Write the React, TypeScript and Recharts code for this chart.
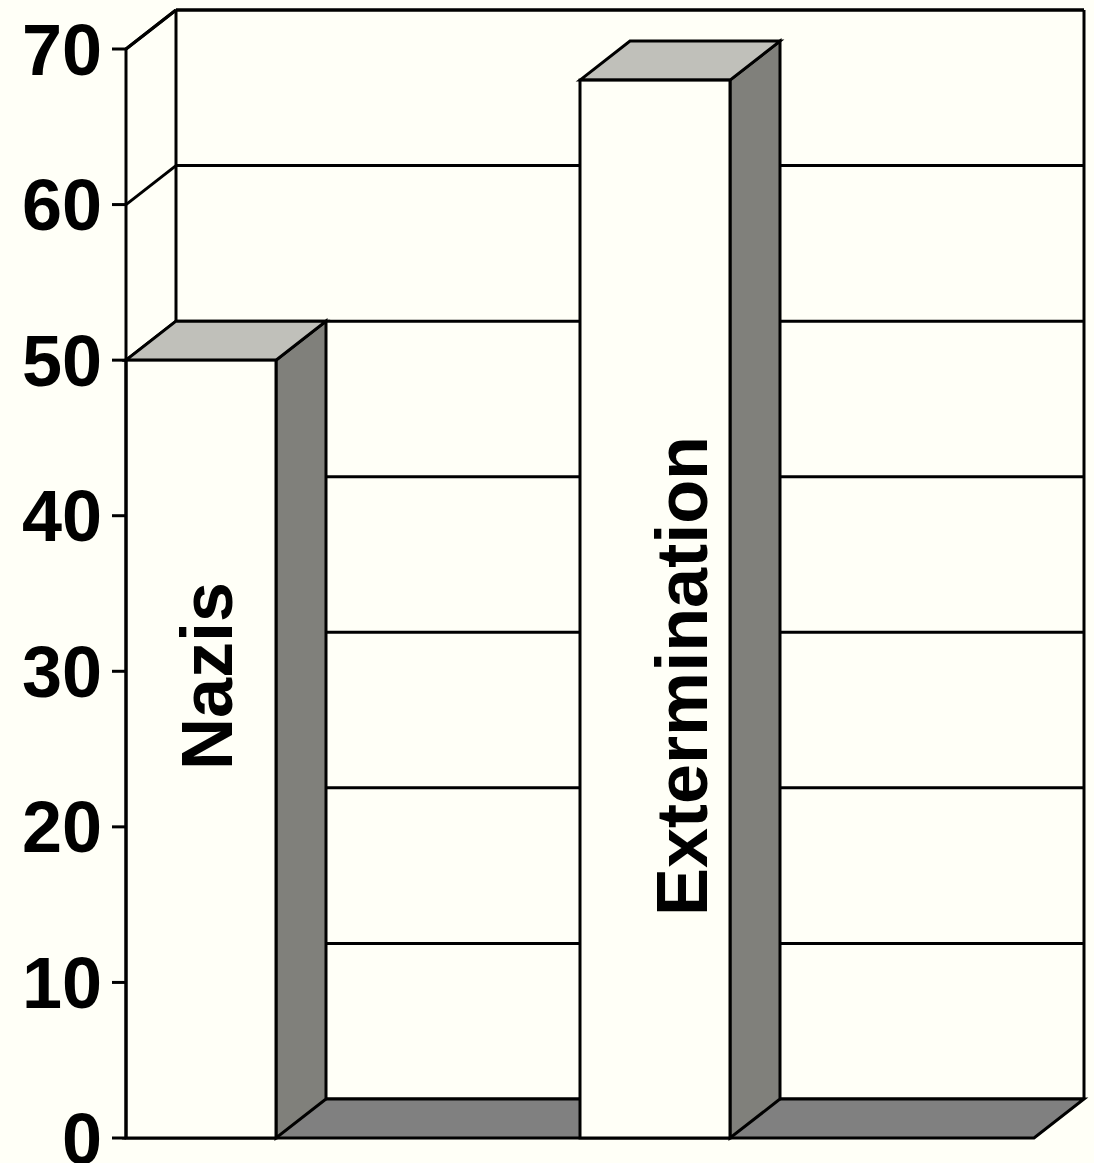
// Old-style 3D column chart: two columns standing in a box with a back wall and floor.

import { Bar, BarChart, CartesianGrid, ReferenceArea, XAxis, YAxis } from "recharts";

const CATEGORIES = ["Nazis", "Extermination"];
const VALUES = [50, 68];
const Y_TICKS = [0, 10, 20, 30, 40, 50, 60, 70];
// value level at which the rotated in-bar labels are centred
const LABEL_LEVEL = 29.7;

const W = 1094;
const H = 1163;
const MARGIN = { top: 49, right: 60, bottom: 25, left: 0 };
const AXIS_W = 126;
const PLOT_W = W - MARGIN.left - MARGIN.right - AXIS_W;
const BAR_W = 150;
const DX = 50; // depth offset
const DY = 39;
const LABEL_DX = [6, 27];

const BG = "#FFFFF7";
const TOP = "#C0C0BA";
const SIDE = "#80807B";
const FLOOR = "#808080";
const INK = "#000";
const SW = 3;
const FONT = "Arial, 'Liberation Sans', Helvetica, sans-serif";

const rows = CATEGORIES.map((name, i) => ({ name, value: VALUES[i] }));

function Box(props: any) {
  const { x, y, width, height } = props;
  const bx = x + DX;
  const by = y - DY;
  return (
    <g stroke={INK} strokeWidth={SW}>
      <line x1={bx} y1={by} x2={bx + width} y2={by} />
      <line x1={bx} y1={by} x2={bx} y2={by + height} />
      <line x1={bx + width} y1={by} x2={bx + width} y2={by + height} />
      <line x1={x} y1={y} x2={bx} y2={by} />
      <polygon
        points={`${x},${y + height} ${bx},${by + height} ${bx + width},${by + height} ${x + width},${y + height}`}
        fill={FLOOR}
      />
    </g>
  );
}

function GridLine(p: any) {
  const { x1, x2, y1 } = p;
  return (
    <g key={p.key} stroke={INK} strokeWidth={SW}>
      <line x1={x1} y1={y1} x2={x1 + DX} y2={y1 - DY} />
      <line x1={x1 + DX} y1={y1 - DY} x2={x2 + DX} y2={y1 - DY} />
    </g>
  );
}

function Bar3D(props: any) {
  const { x, y, width, height, index, payload } = props;
  const band = PLOT_W / CATEGORIES.length;
  const fx = x - (band - width) / 2;
  const bottom = y + height;
  const ly = bottom - (LABEL_LEVEL * height) / payload.value;
  const lx = fx + width / 2 + LABEL_DX[index];
  return (
    <g stroke={INK} strokeWidth={SW}>
      <polygon
        points={`${fx + width},${y} ${fx + width + DX},${y - DY} ${fx + width + DX},${bottom - DY} ${fx + width},${bottom}`}
        fill={SIDE}
      />
      <polygon
        points={`${fx},${y} ${fx + DX},${y - DY} ${fx + width + DX},${y - DY} ${fx + width},${y}`}
        fill={TOP}
      />
      <rect x={fx} y={y} width={width} height={height} fill={BG} />
      <text
        x={lx}
        y={ly}
        transform={`rotate(-90 ${lx} ${ly})`}
        textAnchor="middle"
        dominantBaseline="central"
        stroke="none"
        fill={INK}
        fontFamily={FONT}
        fontWeight="bold"
        fontSize={72}
      >
        {payload.name}
      </text>
    </g>
  );
}

export default function App() {
  return (
    <div style={{ position: "absolute", left: 0, top: 0, width: W, height: H, background: BG }}>
      <BarChart width={W} height={H} data={rows} margin={MARGIN} barSize={BAR_W}>
        <ReferenceArea y1={0} y2={70} shape={<Box />} zIndex={-50} ifOverflow="visible" />
        <CartesianGrid vertical={false} horizontal={GridLine as any} />
        <XAxis dataKey="name" hide />
        <YAxis
          width={AXIS_W}
          domain={[0, 70]}
          ticks={Y_TICKS}
          interval={0}
          axisLine={{ stroke: INK, strokeWidth: SW }}
          tickLine={{ stroke: INK, strokeWidth: SW }}
          tickSize={14}
          tickMargin={10}
          tick={{ fill: INK, fontSize: 72, fontWeight: "bold", fontFamily: FONT }}
        />
        <Bar dataKey="value" shape={<Bar3D />} isAnimationActive={false} />
      </BarChart>
    </div>
  );
}
